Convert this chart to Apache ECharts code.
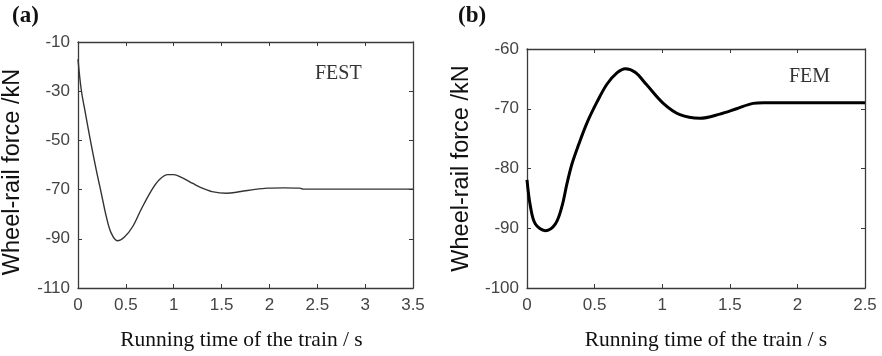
<!DOCTYPE html>
<html>
<head>
<meta charset="utf-8">
<script src="https://cdn.jsdelivr.net/npm/echarts@6/dist/echarts.min.js"></script>
<style>html,body{margin:0;padding:0;background:#fff;}#c{width:882px;height:356px;}</style>
</head>
<body>
<div id="c"></div>
<script>
// Panel (a): FEST
const festTime = [0, 0.034, 0.08, 0.128, 0.19, 0.243, 0.295, 0.346, 0.412, 0.485, 0.572, 0.658, 0.762, 0.849, 0.94, 1.0, 1.08, 1.2, 1.29, 1.4, 1.55, 1.70, 1.85, 1.98, 2.15, 2.32, 2.35, 3.5];
const festForce = [-17, -29.4, -39.5, -49.7, -61.9, -71.4, -80.9, -87.6, -90.8, -89.3, -85, -78.2, -70.7, -66, -63.9, -63.9, -65, -67.5, -69.3, -70.8, -71.5, -70.8, -69.9, -69.4, -69.3, -69.4, -69.8, -69.8];
// Panel (b): FEM
const femTime = [0, 0.025, 0.062, 0.135, 0.209, 0.259, 0.296, 0.333, 0.382, 0.443, 0.517, 0.591, 0.665, 0.727, 0.8, 0.885, 1.008, 1.131, 1.279, 1.426, 1.55, 1.673, 1.75, 2.5];
const femForce = [-81.9, -86.3, -89.3, -90.4, -89.3, -86.3, -82.5, -79.2, -76, -72.4, -68.9, -65.9, -64, -63.3, -63.9, -66, -69.1, -71, -71.6, -70.9, -70, -69.1, -69, -69];

const festYTicks = [-110, -90, -70, -50, -30, -10];
const femYTicks = [-100, -90, -80, -70, -60];

const yTitle = 'Wheel-rail force /kN';
const xTitle = 'Running time of the train / s';

const pair = (xs, ys) => xs.map((x, i) => [x, ys[i]]);

const frame = '#3a3a3a';
const labelStyle = { color: '#444', fontFamily: 'Liberation Sans', fontSize: 17 };

function xAx(grid, max, interval, bottom, withName, shift) {
  return {
    type: 'value', gridIndex: grid, min: 0, max: max, interval: interval,
    position: bottom ? 'bottom' : 'top',
    axisLine: { show: true, onZero: false, lineStyle: { color: frame, width: 1.3 } },
    axisTick: { show: true, inside: true, length: 4, lineStyle: { color: frame } },
    axisLabel: bottom ? Object.assign({ margin: 9 }, labelStyle) : { show: false },
    splitLine: { show: false },
    name: withName ? xTitle : '', nameLocation: 'middle', nameGap: 41,
    nameTextStyle: { fontFamily: 'Liberation Serif', fontSize: 21.5, color: '#111', padding: [0, 0, 0, shift] }
  };
}
function yAx(grid, min, max, ticks, left, withName, shift) {
  return {
    type: 'value', gridIndex: grid, min: min, max: max,
    position: left ? 'left' : 'right',
    axisLine: { show: true, onZero: false, lineStyle: { color: frame, width: 1.3 } },
    axisTick: { show: true, inside: true, length: 4, lineStyle: { color: frame }, customValues: ticks },
    axisLabel: left ? Object.assign({ margin: 8, customValues: ticks }, labelStyle) : { show: false },
    splitLine: { show: false },
    name: withName ? yTitle : '', nameLocation: 'middle', nameGap: 53,
    nameTextStyle: { fontFamily: 'Liberation Sans', fontSize: 23.5, color: '#111', padding: [0, shift || 0, 0, 0] }
  };
}

const chart = echarts.init(document.getElementById('c'), null, { renderer: 'canvas' });
chart.setOption({
  animation: false,
  backgroundColor: '#fff',
  grid: [
    { left: 76, top: 42, width: 337, height: 246 },
    { left: 527, top: 49, width: 338, height: 245 }
  ],
  xAxis: [
    xAx(0, 3.5, 0.5, true, true, -8),
    xAx(0, 3.5, 0.5, false, false, 0),
    xAx(1, 2.5, 0.5, true, true, 20),
    xAx(1, 2.5, 0.5, false, false, 0)
  ],
  yAxis: [
    yAx(0, -110, -10, festYTicks, true, true, 14),
    yAx(0, -110, -10, festYTicks, false, false),
    yAx(1, -100, -60, femYTicks, true, true, 0),
    yAx(1, -100, -60, femYTicks, false, false)
  ],
  graphic: [
    { type: 'text', left: 12, top: 5, style: { text: '(a)', font: 'bold 23px "Liberation Serif"', fill: '#111' } },
    { type: 'text', left: 458, top: 5, style: { text: '(b)', font: 'bold 23px "Liberation Serif"', fill: '#111' } },
    { type: 'text', left: 315, top: 64, style: { text: 'FEST', font: '20px "Liberation Serif"', fill: '#333' } },
    { type: 'text', left: 789, top: 67, style: { text: 'FEM', font: '20px "Liberation Serif"', fill: '#333' } }
  ],
  series: [
    { type: 'line', xAxisIndex: 0, yAxisIndex: 0, data: pair(festTime, festForce), showSymbol: false, smooth: 0.35, lineStyle: { color: '#333', width: 1.4 } },
    { type: 'line', xAxisIndex: 2, yAxisIndex: 2, data: pair(femTime, femForce), showSymbol: false, smooth: 0.35, lineStyle: { color: '#000', width: 3 } }
  ]
});
</script>
</body>
</html>
